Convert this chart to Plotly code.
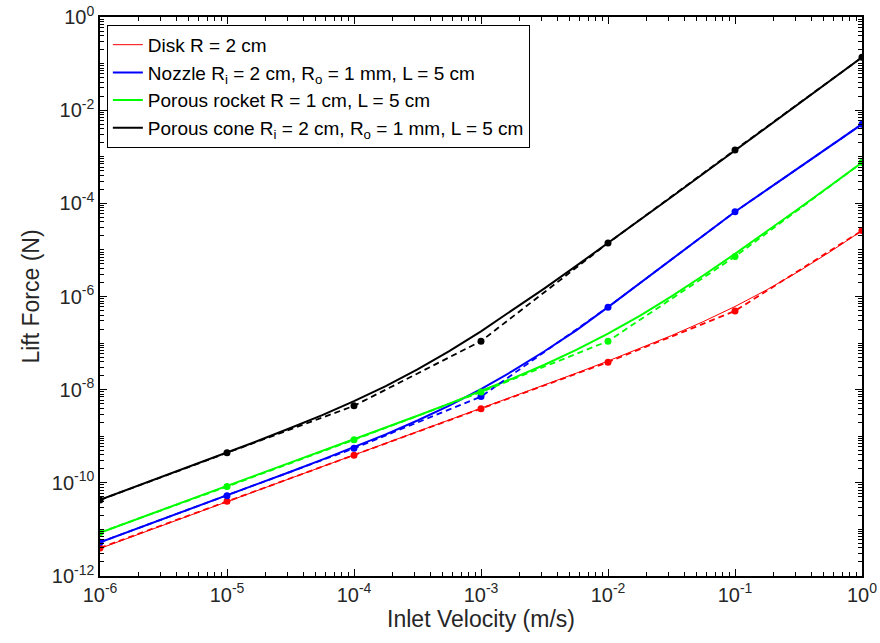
import plotly.graph_objects as go

# inlet velocity (m/s) - quarter-decade samples for the model curves
v_fine = [1e-6, 1.778e-6, 3.162e-6, 5.623e-6,
          1e-5, 1.778e-5, 3.162e-5, 5.623e-5,
          1e-4, 1.778e-4, 3.162e-4, 5.623e-4,
          1e-3, 1.778e-3, 3.162e-3, 5.623e-3,
          1e-2, 1.778e-2, 3.162e-2, 5.623e-2,
          1e-1, 1.778e-1, 3.162e-1, 5.623e-1,
          1.0]

# lift force (N), solid curves
disk_line = [3.9e-12, 6.93e-12, 1.233e-11, 2.19e-11,
             3.9e-11, 6.93e-11, 1.233e-10, 2.19e-10,
             3.9e-10, 6.93e-10, 1.233e-9, 2.19e-9,
             3.92e-9, 7.0e-9, 1.255e-8, 2.26e-8,
             4.12e-8, 7.63e-8, 1.45e-7, 2.89e-7,
             6.1e-7, 1.39e-6, 3.43e-6, 9.15e-6,
             2.59e-5]
nozzle_line = [5.3e-12, 9.42e-12, 1.676e-11, 2.98e-11,
               5.35e-11, 9.58e-11, 1.73e-10, 3.14e-10,
               5.8e-10, 1.10e-9, 2.18e-9, 4.56e-9,
               1.03e-8, 2.52e-8, 6.68e-8, 1.88e-7,
               5.9e-7, 1.9e-6, 6.3e-6, 2.04e-5,
               6.6e-5, 1.95e-4, 5.75e-4, 1.70e-3,
               5.0e-3]
rocket_line = [8.5e-12, 1.511e-11, 2.69e-11, 4.78e-11,
               8.5e-11, 1.511e-10, 2.69e-10, 4.78e-10,
               8.57e-10, 1.53e-9, 2.76e-9, 5.01e-9,
               9.24e-9, 1.75e-8, 3.43e-8, 7.12e-8,
               1.59e-7, 3.85e-7, 1.01e-6, 2.82e-6,
               8.25e-6, 2.49e-5, 7.67e-5, 2.39e-4,
               7.49e-4]
cone_line = [4.31e-11, 7.69e-11, 1.37e-10, 2.46e-10,
             4.44e-10, 8.08e-10, 1.50e-9, 2.85e-9,
             5.66e-9, 1.195e-8, 2.72e-8, 6.72e-8,
             1.79e-7, 5.07e-7, 1.50e-6, 4.54e-6,
             1.40e-5, 4.38e-5, 1.37e-4, 4.32e-4,
             1.364e-3, 4.31e-3, 1.36e-2, 4.30e-2,
             0.136]

# decade samples (dashed with markers)
v_pts = [1e-6, 1e-5, 1e-4, 1e-3, 1e-2, 1e-1, 1.0]
disk_pts = [4.0e-12, 4.0e-11, 3.9e-10, 3.9e-9, 3.9e-8, 4.9e-7, 2.6e-5]
nozzle_pts = [5.3e-12, 5.3e-11, 5.5e-10, 7.1e-9, 5.9e-7, 6.6e-5, 5.0e-3]
rocket_pts = [8.6e-12, 8.3e-11, 8.4e-10, 8.9e-9, 1.1e-7, 7.2e-6, 7.5e-4]
cone_pts = [4.3e-11, 4.4e-10, 4.5e-9, 1.1e-7, 1.4e-5, 1.4e-3, 0.136]

names = ["Disk R = 2 cm",
         "Nozzle R<sub>i</sub> = 2 cm, R<sub>o</sub> = 1 mm, L = 5 cm",
         "Porous rocket R = 1 cm, L = 5 cm",
         "Porous cone R<sub>i</sub> = 2 cm, R<sub>o</sub> = 1 mm, L = 5 cm"]
colors = ["#ff0000", "#0000ff", "#00ff00", "#000000"]
widths = [1, 2, 2, 2]

x_exp = [-6, -5, -4, -3, -2, -1, 0]
y_exp = [-12, -10, -8, -6, -4, -2, 0]

fig = go.Figure()
for name, col, w, ys in zip(names, colors, widths,
                            [disk_line, nozzle_line, rocket_line, cone_line]):
    fig.add_trace(go.Scatter(x=v_fine, y=ys, mode="lines", name=name,
                             line=dict(color=col, width=w)))
for col, ys in zip(colors, [disk_pts, nozzle_pts, rocket_pts, cone_pts]):
    fig.add_trace(go.Scatter(x=v_pts, y=ys, mode="lines+markers", showlegend=False,
                             line=dict(color=col, width=1.8, dash="6px,4px"),
                             marker=dict(color=col, size=7)))

x_minor = [m * 10.0 ** k for k in range(-6, 0) for m in range(2, 10)]
y_minor = [m * 10.0 ** k for k in range(-12, 0) for m in range(1, 10)
           if not (m == 1 and k % 2 == 0)]

axis_common = dict(type="log", showgrid=False, zeroline=False, automargin=False,
                   ticklabeloverflow="allow",
                   showline=True, linecolor="black", linewidth=1.5, mirror="allticks",
                   ticks="inside", ticklen=7, tickwidth=1, tickcolor="black",
                   tickfont=dict(size=20, color="#262626"))

fig.update_xaxes(range=[-6, 0], tickvals=[10.0 ** e for e in x_exp],
                 ticktext=["10<sup>%d</sup>" % e for e in x_exp],
                 minor=dict(tickvals=x_minor, ticks="inside", ticklen=4,
                            tickcolor="black"),
                 title=dict(text="Inlet Velocity (m/s)", standoff=2,
                            font=dict(size=23, color="#262626")),
                 **axis_common)
fig.update_yaxes(range=[-12, 0], tickvals=[10.0 ** e for e in y_exp],
                 ticktext=["10<sup>%d</sup>" % e for e in y_exp],
                 minor=dict(tickvals=y_minor, ticks="inside", ticklen=4,
                            tickcolor="black"),
                 title=dict(text="Lift Force (N)", standoff=6,
                            font=dict(size=23, color="#262626")),
                 **axis_common)

fig.update_layout(
    width=880, height=643,
    margin=dict(l=100, r=18, t=17, b=67),
    paper_bgcolor="white", plot_bgcolor="white",
    font=dict(family="Liberation Sans, Arial, sans-serif", color="black"),
    legend=dict(x=0.009, y=0.986, xanchor="left", yanchor="top",
                bgcolor="white", bordercolor="black", borderwidth=1,
                itemwidth=30, font=dict(size=19, color="black"), tracegroupgap=0),
)

# drop the default 8px page margin so the figure fills the window
fig.write_html("out.html", config={"displayModeBar": False},
               post_script="document.body.style.margin='0';"
                           "document.body.style.overflow='hidden';")
